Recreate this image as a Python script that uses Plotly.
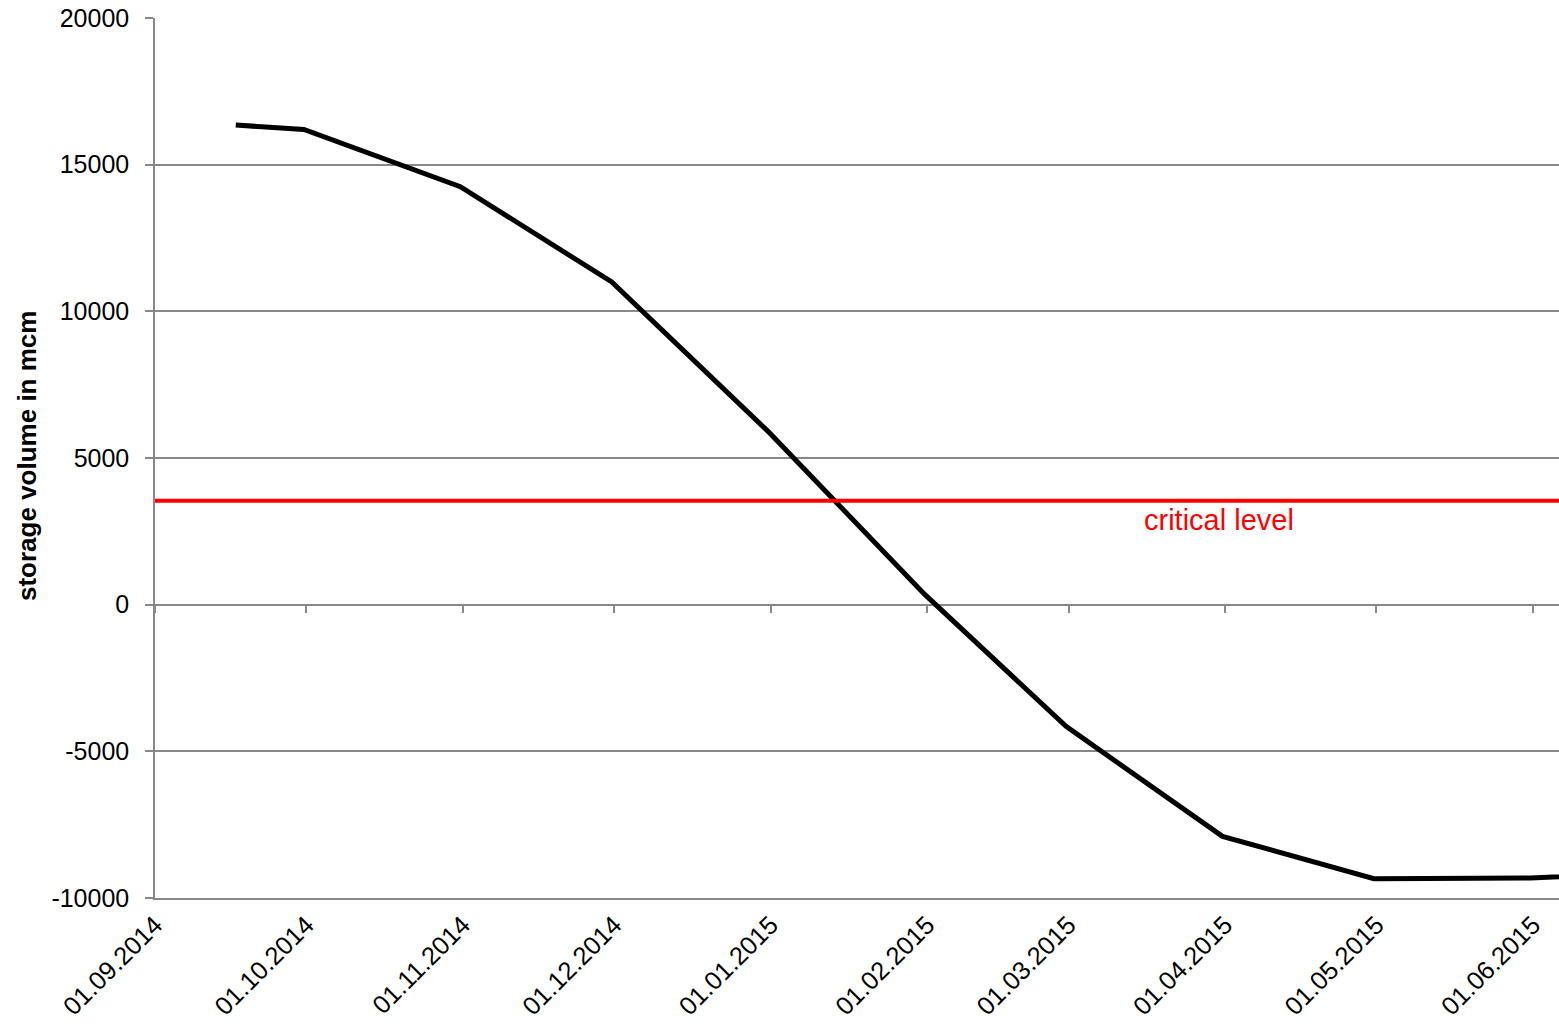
import plotly.graph_objects as go

# ---- data ----
dates = ["2014-09-17", "2014-09-30 12:00", "2014-10-31 12:00", "2014-11-30 12:00", "2014-12-31 12:00",
         "2015-01-31 12:00", "2015-02-28 12:00", "2015-03-31 12:00", "2015-04-30 12:00",
         "2015-05-31 12:00", "2015-06-30 12:00"]
storage = [16350, 16200, 14250, 11000, 5900, 350, -4150, -7900, -9340, -9320, -9100]

critical_level = 3540
critical_label = "critical level"
critical_label_date = "2015-03-15 12:00"
critical_label_value = 2900

tick_dates = ["2014-09-01", "2014-10-01", "2014-11-01", "2014-12-01", "2015-01-01",
              "2015-02-01", "2015-03-01", "2015-04-01", "2015-05-01", "2015-06-01"]
tick_labels = ["01.09.2014", "01.10.2014", "01.11.2014", "01.12.2014", "01.01.2015",
               "01.02.2015", "01.03.2015", "01.04.2015", "01.05.2015", "01.06.2015"]
x_range = ["2014-09-01", "2015-06-06 04:00"]
y_range = [-10000, 20000]
y_ticks = [-10000, -5000, 0, 5000, 10000, 15000, 20000]
y_tick_labels = ["-10000", "-5000", "0", "5000", "10000", "15000", "20000"]
y_title = "storage volume in mcm"

GRAY = "#888888"
FONT = "Liberation Sans, Arial, sans-serif"

fig = go.Figure()

fig.add_trace(go.Scatter(
    x=dates, y=storage, mode="lines",
    line=dict(color="black", width=5),
    hoverinfo="skip", showlegend=False,
))

# critical level line drawn on the overlay axis so that axis gets created
fig.add_trace(go.Scatter(
    x=[x_range[0], x_range[1]], y=[critical_level, critical_level],
    mode="lines", line=dict(color="#ff0000", width=4),
    xaxis="x2", yaxis="y", hoverinfo="skip", showlegend=False,
))

fig.add_annotation(
    x=critical_label_date, y=critical_label_value, text=critical_label,
    showarrow=False, xanchor="left", yanchor="middle",
    font=dict(family=FONT, size=29, color="#ff0000"),
)

fig.add_annotation(
    xref="paper", yref="paper", x=0, y=0.5, xshift=-128, yshift=2,
    text="<b>" + y_title + "</b>", textangle=-90,
    showarrow=False, xanchor="center", yanchor="middle",
    font=dict(family=FONT, size=26, color="black"),
)

fig.update_layout(
    width=1559, height=1027,
    margin=dict(l=155, r=0, t=18, b=129, pad=0),
    paper_bgcolor="white", plot_bgcolor="white",
    font=dict(family=FONT, color="black"),
    xaxis=dict(
        type="date", range=x_range,
        tickvals=tick_dates, ticktext=tick_labels,
        tickangle=-45, tickfont=dict(size=25.5, family=FONT, color="black"),
        showgrid=False, zeroline=False,
        showline=True, linecolor=GRAY, linewidth=1.5,
        ticks="", ticklen=0,
    ),
    xaxis2=dict(
        type="date", range=x_range, overlaying="x", matches="x",
        anchor="free", position=1 / 3,
        tickvals=tick_dates, showticklabels=False,
        ticks="outside", ticklen=7, tickwidth=1.5, tickcolor=GRAY,
        showgrid=False, zeroline=False, showline=False,
    ),
    yaxis=dict(
        range=y_range, tickvals=y_ticks, ticktext=y_tick_labels,
        tickfont=dict(size=25, family=FONT, color="black"),
        showgrid=True, gridcolor=GRAY, gridwidth=1.5,
        zeroline=True, zerolinecolor=GRAY, zerolinewidth=1.5,
        showline=True, linecolor=GRAY, linewidth=1.5,
        ticks="outside", ticklen=8, tickwidth=1.5, tickcolor=GRAY,
        ticklabelstandoff=11,
    ),
)

fig.write_html(
    "out.html",
    config={"displayModeBar": False},
    post_script="document.body.style.margin='0';document.body.style.overflow='hidden';",
)
